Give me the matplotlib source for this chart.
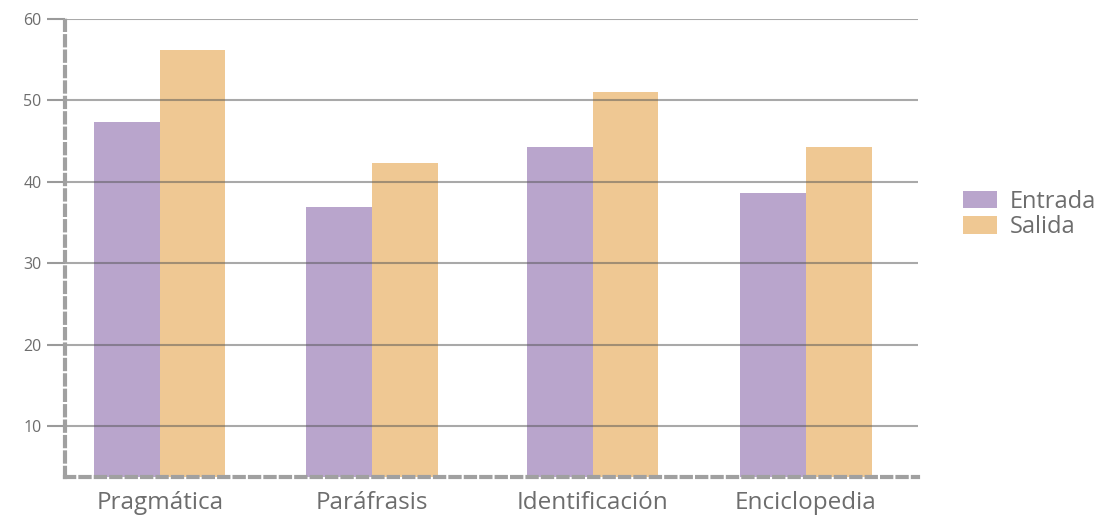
import matplotlib.pyplot as plt
import numpy as np

# datos
categorias = ['Pragmática', 'Paráfrasis', 'Identificación', 'Enciclopedia']
entrada = [47.3, 36.9, 44.2, 38.6]
salida = [56.2, 42.3, 51.0, 44.2]
y_ticks = [10, 20, 30, 40, 50, 60]

plt.rcParams['font.family'] = ['Open Sans', 'DejaVu Sans']

fig = plt.figure(figsize=(11, 5.17), dpi=100)
ax = fig.add_axes([0.0591, 0.0774, 0.7754, 0.8868])

x = np.array([0, 0.985, 2.01, 3.0])
w = 0.305
ax.bar(x - w / 2, entrada, w, color='#b9a5cc', zorder=1, label='Entrada')
ax.bar(x + w / 2, salida, w, color='#efc893', zorder=1, label='Salida')

ax.set_xlim(-0.44, 3.52)
ax.set_ylim(3.8, 60)

# líneas de la cuadrícula por encima de las barras
ax.set_yticks(y_ticks)
ax.yaxis.grid(True, color='#555555', alpha=0.5, linewidth=1.5, zorder=3)
ax.set_axisbelow(False)
ax.tick_params(axis='y', length=13, width=1.5, color='#9a9a9a',
               labelsize=11.5, labelcolor='#6d6d6d', pad=4)

ax.set_xticks(x)
ax.set_xticklabels(categorias, fontsize=17.5, color='#6d6d6d')
ax.tick_params(axis='x', length=0, pad=10)

for s in ['top', 'right']:
    ax.spines[s].set_visible(False)
for s in ['left', 'bottom']:
    ax.spines[s].set_color('#a0a0a0')
    ax.spines[s].set_linewidth(3)
    ax.spines[s].set_linestyle((0, (2.2, 1.5)))
    ax.spines[s].set_zorder(4)

fig.legend(loc='center left', bbox_to_anchor=(0.856, 0.585), frameon=False,
           fontsize=17, labelcolor='#6d6d6d', handlelength=1.45,
           handleheight=0.75, handletextpad=0.55, labelspacing=0.05)

plt.savefig('out.png', dpi=100)
